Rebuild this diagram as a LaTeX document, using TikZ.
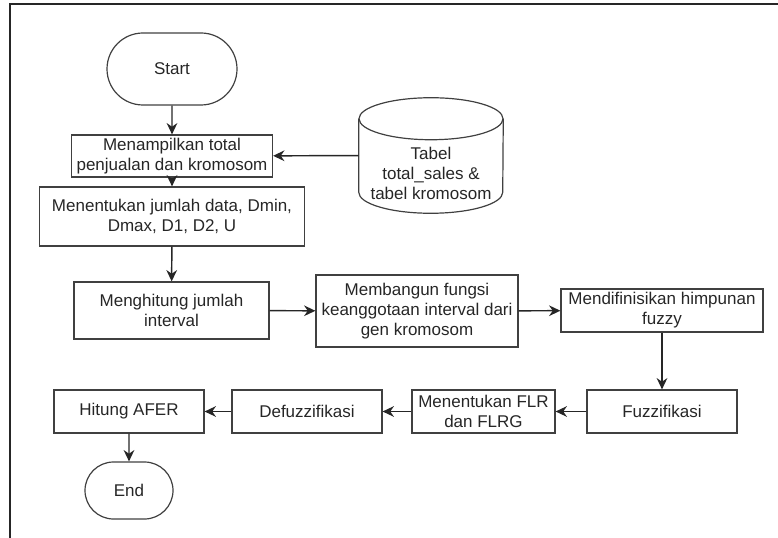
\documentclass[tikz,border=0pt]{standalone}
\usepackage{fontspec}
\setmainfont{Liberation Sans}
\usetikzlibrary{arrows.meta,shapes.misc}

\begin{document}
\begin{tikzpicture}[x=0.75pt,y=-0.75pt,>={Stealth[length=8.5pt,width=8pt]},
  font=\fontsize{12.75}{15}\selectfont,
  proc/.style={draw=black!75,line width=0.9pt,align=center,inner sep=0pt,text=black!85},
  term/.style={proc,rounded rectangle},
  cyl/.style={draw=black!75,line width=0.9pt},
  flow/.style={->,draw=black!85,line width=1.1pt}]
  \useasboundingbox (0,0) rectangle (778,538);
  % frame
  \draw[black!85,line width=1.4pt] (10,538) -- (10,4) -- (778,4);
  % first column
  \node[term,minimum width=97.5pt,minimum height=54pt] (start) at (172,69) {Start};
  \node[proc,minimum width=150.75pt,minimum height=31.5pt] (tampil) at (172,156)
     {Menampilkan total\\penjualan dan kromosom};
  \node[inner sep=0pt,text=black!85,minimum width=108pt,minimum height=86.25pt] (tabel) at (431,155.5)
     {\raisebox{-18pt}[0pt][0pt]{\begin{tabular}{@{}c@{}}Tabel\\total\_sales \&\\tabel kromosom\end{tabular}}};
  % database cylinder
  \draw[cyl] ([yshift=-15.75pt]tabel.north) ellipse [x radius=54pt,y radius=15.75pt];
  \draw[cyl] ([yshift=-15.75pt]tabel.north west) -- ([yshift=15.75pt]tabel.south west)
     arc [start angle=180,end angle=360,x radius=54pt,y radius=15.75pt]
     -- ([yshift=-15.75pt]tabel.north east);
  \node[proc,minimum width=198.75pt,minimum height=44.25pt] (tentu) at (172,216.5)
     {Menentukan jumlah data, Dmin,\\Dmax, D1, D2, U};
  % middle row
  \node[proc,minimum width=146.25pt,minimum height=42.75pt] (hitung) at (171.5,310.5)
     {Menghitung jumlah\\interval};
  \node[proc,minimum width=151.5pt,minimum height=54pt] (bangun) at (417,311)
     {Membangun fungsi\\keanggotaan interval dari\\gen kromosom};
  \node[proc,minimum width=151.5pt,minimum height=32.25pt] (himpunan) at (662,310.5)
     {Mendifinisikan himpunan\\fuzzy};
  % bottom row
  \node[proc,minimum width=112.5pt,minimum height=32.25pt] (fuzz) at (662,411.5) {Fuzzifikasi};
  \node[proc,minimum width=107.25pt,minimum height=32.25pt] (flr) at (483.5,411.5)
     {Menentukan FLR\\dan FLRG};
  \node[proc,minimum width=112.5pt,minimum height=32.25pt] (defuzz) at (307,411.5) {Defuzzifikasi};
  \node[proc,minimum width=112.5pt,minimum height=32.25pt] (afer) at (129,411.5) {Hitung AFER};
  \node[term,minimum width=66pt,minimum height=42.75pt] (end) at (129,490.5) {End};
  % arrows
  \draw[flow] (start) -- (tampil);
  \draw[flow] (tabel) -- (tampil);
  \draw[flow] (tampil) -- (tentu);
  \draw[flow] (tentu) -- (hitung);
  \draw[flow] (hitung) -- (bangun);
  \draw[flow] (bangun) -- (himpunan);
  \draw[flow] (himpunan) -- (fuzz);
  \draw[flow] (fuzz) -- (flr);
  \draw[flow] (flr) -- (defuzz);
  \draw[flow] (defuzz) -- (afer);
  \draw[flow] (afer) -- (end);
\end{tikzpicture}
\end{document}
